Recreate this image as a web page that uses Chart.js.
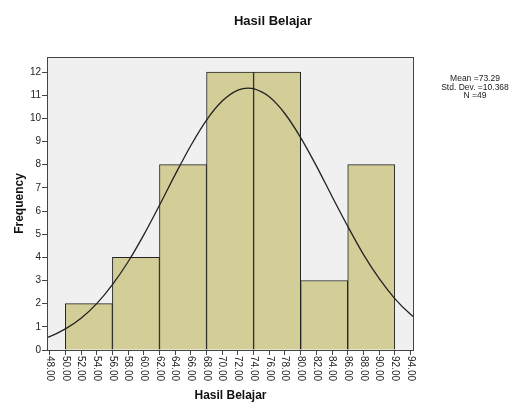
<!DOCTYPE html>
<html>
<head>
<meta charset="utf-8">
<script src="https://cdn.jsdelivr.net/npm/chart.js@4"></script>
<style>
html,body{margin:0;padding:0;background:#fff;}
#wrap{width:517px;height:403px;}
</style>
</head>
<body>
<div id="wrap"><canvas id="c" width="517" height="403"></canvas></div>
<script>
// Histogram bins (lower edge, upper edge) and frequencies
const binStarts = [50, 56, 62, 68, 74, 80, 86];
const binEnds   = [56, 62, 68, 74, 80, 86, 92];
const frequencies = [2, 4, 8, 12, 12, 3, 8];

// Normal curve
const curveX = [47.66, 48, 50, 52, 54, 56, 58, 60, 62, 64, 66, 68, 70, 72, 73.29, 74, 76, 78, 80, 82, 84, 86, 88, 90, 92, 94, 94.45];
const curveY = [0.55, 0.58, 0.91, 1.37, 2.00, 2.82, 3.81, 4.97, 6.25, 7.57, 8.83, 9.93, 10.75, 11.22, 11.31, 11.28, 10.93, 10.20, 9.17, 7.95, 6.63, 5.34, 4.13, 3.09, 2.22, 1.54, 1.42];

const xTicks = [48,50,52,54,56,58,60,62,64,66,68,70,72,74,76,78,80,82,84,86,88,90,92,94];
const yTicks = [0,1,2,3,4,5,6,7,8,9,10,11,12];

const titleText = "Hasil Belajar";
const xTitle = "Hasil Belajar";
const yTitle = "Frequency";
const statsLines = ["Mean =73.29", "Std. Dev. =10.368", "N =49"];

const barData = binStarts.map((s, i) => ({x: (s + binEnds[i]) / 2, y: frequencies[i]}));
const lineData = curveX.map((x, i) => ({x: x, y: curveY[i]}));

const FONT = "'Liberation Sans', Arial, sans-serif";

const decor = {
  id: 'decor',
  beforeDraw(chart) {
    const {ctx, chartArea: a} = chart;
    ctx.save();
    ctx.fillStyle = '#f0f0f0';
    ctx.fillRect(a.left, a.top, a.right - a.left, a.bottom - a.top);
    ctx.restore();
  },
  afterDraw(chart) {
    const {ctx, chartArea: a} = chart;
    const xs = chart.scales.x;
    ctx.save();
    // frame
    ctx.strokeStyle = '#444';
    ctx.lineWidth = 1;
    ctx.strokeRect(Math.round(a.left) + 0.5, Math.round(a.top) + 0.5, Math.round(a.right - a.left) - 1, Math.round(a.bottom - a.top));
    // rotated x tick labels
    ctx.fillStyle = '#222';
    ctx.font = '10px ' + FONT;
    ctx.textAlign = 'left';
    ctx.textBaseline = 'middle';
    xTicks.forEach(v => {
      const px = xs.getPixelForValue(v);
      ctx.save();
      ctx.translate(px, a.bottom + 6);
      ctx.rotate(Math.PI / 2);
      ctx.fillText(v.toFixed(2), 0, 0);
      ctx.restore();
    });
    // title
    ctx.font = 'bold 13px ' + FONT;
    ctx.textAlign = 'center';
    ctx.textBaseline = 'middle';
    ctx.fillStyle = '#111';
    ctx.fillText(titleText, 273, 21);
    // stats
    ctx.font = '8.5px ' + FONT;
    ctx.fillStyle = '#222';
    statsLines.forEach((t, i) => ctx.fillText(t, 475, 79 + i * 8.5));
    ctx.restore();
  }
};

new Chart(document.getElementById('c'), {
  type: 'bar',
  data: {
    datasets: [
      {
        type: 'line',
        data: lineData,
        borderColor: '#222',
        borderWidth: 1.3,
        pointRadius: 0,
        tension: 0.4,
        cubicInterpolationMode: 'monotone',
        fill: false,
        order: 0
      },
      {
        type: 'bar',
        data: barData,
        backgroundColor: '#d3ce98',
        borderColor: '#222',
        borderWidth: 1,
        borderSkipped: 'bottom',
        barThickness: 'flex',
        barPercentage: 1,
        categoryPercentage: 1,
        order: 1
      }
    ]
  },
  options: {
    responsive: false,
    animation: false,
    devicePixelRatio: 1,
    layout: {padding: {left: 0, right: 103, top: 57, bottom: 0}},
    plugins: {legend: {display: false}, tooltip: {enabled: false}, title: {display: false}},
    scales: {
      x: {
        type: 'linear',
        offset: false,
        min: 47.66,
        max: 94.45,
        afterBuildTicks(s) { s.ticks = xTicks.map(v => ({value: v})); },
        afterFit(s) { s.height = 53; },
        ticks: {callback: () => '', maxRotation: 0, autoSkip: false},
        grid: {offset: false, drawOnChartArea: false, drawTicks: true, tickLength: 5, color: '#444'},
        border: {display: false},
        title: {display: true, text: xTitle, font: {family: FONT, size: 12, weight: 'bold'}, color: '#111', padding: {top: 0, bottom: 0}}
      },
      y: {
        min: 0,
        max: 12.65,
        afterBuildTicks(s) { s.ticks = yTicks.map(v => ({value: v})); },
        afterFit(s) { s.width = 47; },
        ticks: {font: {family: FONT, size: 10}, color: '#222', padding: 1},
        grid: {drawOnChartArea: false, drawTicks: true, tickLength: 5, color: '#444'},
        border: {display: false},
        title: {display: true, text: yTitle, font: {family: FONT, size: 12, weight: 'bold'}, color: '#111', padding: {top: 12, bottom: 0}}
      }
    }
  },
  plugins: [decor]
});
</script>
</body>
</html>
